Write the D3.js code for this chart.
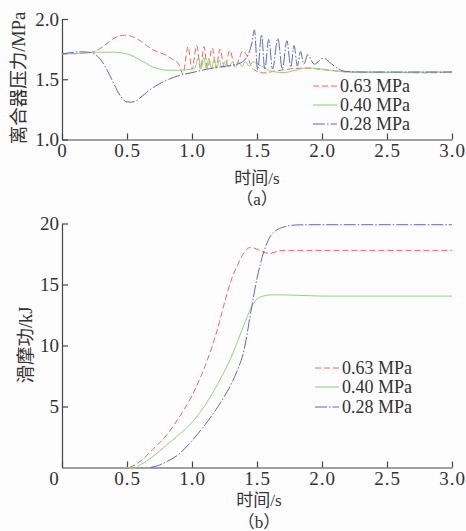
<!DOCTYPE html>
<html>
<head>
<meta charset="utf-8">
<script src="https://cdn.jsdelivr.net/npm/d3@7"></script>
<style>
  body { margin: 0; background: #fdfdfd; }
  svg { display: block; }
  .tick text { font-family: "Liberation Serif", serif; font-size: 19px; fill: #333; }
  .xaxis .tick text { letter-spacing: 1px; }
  .lbl { font-family: "Liberation Serif", "Noto Sans CJK SC", serif; fill: #333; }
</style>
</head>
<body>
<svg id="chart" width="466" height="531"></svg>
<script>
// -------------- DATA ----------------- //
const seriesNames = ["0.63 MPa", "0.40 MPa", "0.28 MPa"];
const xTicks = [0, 0.5, 1.0, 1.5, 2.0, 2.5, 3.0];
const pressureTicks = [1.0, 1.5, 2.0];
const workTicks = [5, 10, 15, 20];

// (a) clutch pressure, [time s, MPa]
const pressure063 = [[0,1.71],[0.1,1.712],[0.2,1.72],[0.25,1.73],[0.3,1.76],[0.35,1.80],[0.4,1.84],[0.48,1.865],[0.55,1.85],
  [0.6,1.82],[0.65,1.78],[0.7,1.745],[0.75,1.72],[0.8,1.70],[0.85,1.665],[0.88,1.65],[0.9,1.62],[0.93,1.545],
  [0.97,1.77],[1.0,1.58],[1.036,1.78],[1.065,1.585],[1.092,1.77],[1.12,1.59],[1.156,1.76],[1.185,1.59],[1.215,1.75],
  [1.25,1.595],[1.292,1.74],[1.33,1.60],[1.36,1.66],[1.39,1.735],[1.42,1.70],[1.46,1.60],[1.5,1.565],[1.55,1.552],
  [1.6,1.56],[1.7,1.578],[1.8,1.59],[1.9,1.592],[2.0,1.58],[2.1,1.57],[2.2,1.56],[2.5,1.558],[2.8,1.553],[3.0,1.56]];
const pressure040 = [[0,1.71],[0.1,1.713],[0.2,1.72],[0.3,1.725],[0.4,1.725],[0.45,1.72],[0.5,1.71],[0.55,1.69],[0.6,1.66],
  [0.65,1.63],[0.7,1.60],[0.75,1.585],[0.8,1.575],[0.9,1.575],[0.97,1.58],[1.02,1.59],
  [1.05,1.68],[1.07,1.59],[1.09,1.68],[1.11,1.59],[1.13,1.675],[1.15,1.59],[1.17,1.665],[1.19,1.595],[1.21,1.66],
  [1.23,1.595],[1.26,1.65],[1.285,1.60],[1.31,1.645],[1.335,1.60],[1.36,1.64],[1.385,1.605],[1.41,1.645],[1.44,1.61],
  [1.47,1.645],[1.5,1.63],[1.55,1.60],[1.6,1.57],[1.7,1.555],[1.8,1.575],[1.88,1.595],[2.0,1.585],[2.1,1.57],
  [2.2,1.56],[2.5,1.557],[3.0,1.56]];
const pressure028 = [[0,1.71],[0.1,1.725],[0.15,1.728],[0.2,1.725],[0.25,1.71],[0.3,1.66],[0.35,1.57],[0.4,1.46],[0.45,1.36],
  [0.5,1.312],[0.53,1.31],[0.57,1.32],[0.6,1.345],[0.65,1.39],[0.7,1.43],[0.8,1.49],[0.9,1.53],[1.0,1.555],[1.1,1.58],
  [1.2,1.60],[1.3,1.615],[1.36,1.63],[1.42,1.68],[1.46,1.80],[1.48,1.91],[1.505,1.575],[1.535,1.87],[1.56,1.58],
  [1.59,1.83],[1.62,1.585],[1.66,1.84],[1.695,1.585],[1.73,1.82],[1.76,1.60],[1.785,1.78],[1.81,1.61],[1.835,1.73],
  [1.86,1.625],[1.89,1.705],[1.94,1.625],[2.01,1.675],[2.07,1.63],[2.12,1.59],[2.18,1.565],[2.3,1.56],[2.6,1.56],[3.0,1.56]];

// (b) slipping work, [time s, kJ]
const work063 = [[0.52,0],[0.6,0.5],[0.7,1.5],[0.8,2.6],[0.9,4.1],[1.0,5.9],[1.1,8.3],[1.2,11.5],[1.25,13.5],[1.3,15.3],
  [1.35,16.6],[1.4,17.6],[1.45,18.05],[1.5,17.9],[1.55,17.65],[1.6,17.55],[1.65,17.7],[1.7,17.8],[1.8,17.8],[3.0,17.8]];
const work040 = [[0.5,0],[0.55,-0.1],[0.6,0.2],[0.7,0.9],[0.8,1.8],[0.9,2.7],[1.0,3.7],[1.1,5.1],[1.2,6.9],[1.3,9.0],
  [1.4,11.7],[1.45,13.0],[1.5,13.8],[1.55,14.05],[1.6,14.15],[1.7,14.15],[2.0,14.05],[3.0,14.05]];
const work028 = [[0.68,0],[0.75,0.2],[0.8,0.45],[0.9,1.1],[1.0,2.2],[1.1,3.5],[1.2,5.0],[1.3,6.8],[1.35,8.0],[1.4,9.6],
  [1.45,12.6],[1.5,15.5],[1.55,17.6],[1.6,18.9],[1.65,19.45],[1.7,19.7],[1.8,19.88],[1.9,19.9],[3.0,19.9]];

// -------------- STYLE ----------------- //
const colors = ["#f06a58", "#92d47e", "#5d67c6"];
const dashes = ["6,3", null, "12,2,1.5,2"];

const svg = d3.select("#chart");

const x = d3.scaleLinear().domain([0, 3]).range([62, 452]);
const yP = d3.scaleLinear().domain([1.0, 2.0]).range([139.5, 19]);
const yW = d3.scaleLinear().domain([0, 20]).range([467.5, 223.5]);

const fmtX = d => d === 0 ? "0" : d3.format(".1f")(d);

function drawAxes(yScale, yTickVals, yFmt, axisY, zeroDx) {
  const gx = svg.append("g")
      .attr("class", "xaxis")
      .attr("transform", `translate(0,${axisY})`)
      .call(d3.axisBottom(x).tickValues(xTicks).tickFormat(fmtX)
        .tickSizeInner(-6).tickSizeOuter(0).tickPadding(4));
  gx.selectAll(".tick text").filter(d => d === 0).attr("dx", zeroDx);
  const gy = svg.append("g")
      .attr("transform", "translate(62,0)")
      .call(d3.axisLeft(yScale).tickValues(yTickVals).tickFormat(yFmt)
        .tickSizeInner(-6).tickSizeOuter(0).tickPadding(3));
  [gx, gy].forEach(g => {
    g.select(".domain").attr("stroke", "#444").attr("stroke-width", 1.2);
    g.selectAll(".tick line").attr("stroke", "#444").attr("stroke-width", 1.2);
  });
}

function drawSeries(data, yScale, i) {
  const line = d3.line()
      .x(d => x(d[0]))
      .y(d => yScale(d[1]))
      .curve(d3.curveMonotoneX);
  svg.append("path")
      .attr("d", line(data))
      .attr("fill", "none")
      .attr("stroke", colors[i])
      .attr("stroke-width", 1)
      .attr("stroke-dasharray", dashes[i]);
}

function drawLegend(x0, rows) {
  seriesNames.forEach((name, i) => {
    svg.append("line")
        .attr("x1", x0).attr("x2", x0 + 24)
        .attr("y1", rows[i]).attr("y2", rows[i])
        .attr("stroke", colors[i]).attr("stroke-width", 1.1)
        .attr("stroke-dasharray", dashes[i]);
    svg.append("text").attr("class", "lbl")
        .attr("x", x0 + 27).attr("y", rows[i] + 6)
        .attr("font-size", 18)
        .text(name);
  });
}

// -------------- (a) ----------------- //
drawAxes(yP, pressureTicks, d3.format(".1f"), 139.5, 0);
[pressure063, pressure040, pressure028].forEach((d, i) => drawSeries(d, yP, i));
drawLegend(313, [86, 105, 124]);

svg.append("text").attr("class", "lbl").attr("x", 257).attr("y", 184)
    .attr("text-anchor", "middle").attr("font-size", 17).text("时间/s");
svg.append("text").attr("class", "lbl").attr("x", 257).attr("y", 205)
    .attr("text-anchor", "middle").attr("font-size", 17).text("（a）");
svg.append("text").attr("class", "lbl")
    .attr("transform", "translate(19,78) rotate(-90)")
    .attr("text-anchor", "middle").attr("dominant-baseline", "central")
    .attr("font-size", 18.5).text("离合器压力/MPa");

// -------------- (b) ----------------- //
drawAxes(yW, workTicks, d3.format("d"), 467.5, -8);
[work063, work040, work028].forEach((d, i) => drawSeries(d, yW, i));
drawLegend(315, [368, 387, 407]);

svg.append("text").attr("class", "lbl").attr("x", 259).attr("y", 506)
    .attr("text-anchor", "middle").attr("font-size", 17).text("时间/s");
svg.append("text").attr("class", "lbl").attr("x", 259).attr("y", 528)
    .attr("text-anchor", "middle").attr("font-size", 17).text("（b）");
svg.append("text").attr("class", "lbl")
    .attr("transform", "translate(26,345) rotate(-90)")
    .attr("text-anchor", "middle").attr("dominant-baseline", "central")
    .attr("font-size", 18.5).text("滑摩功/kJ");
</script>
</body>
</html>
